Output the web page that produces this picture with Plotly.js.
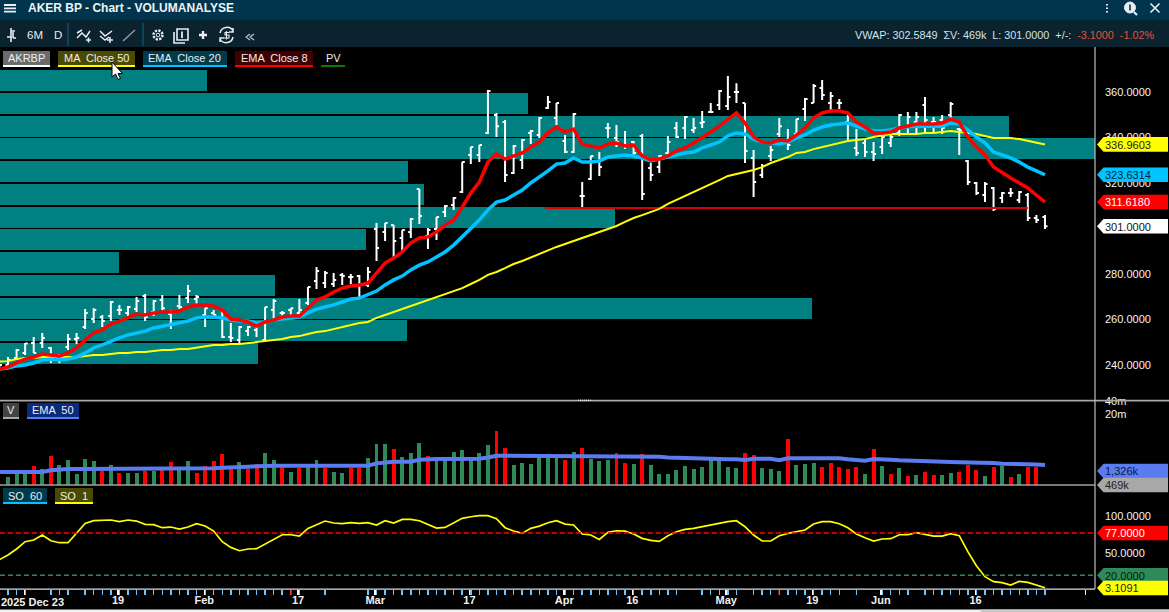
<!DOCTYPE html>
<html><head><meta charset="utf-8">
<script src="https://cdn.plot.ly/plotly-3.0.1.min.js"></script>
<style>html,body{margin:0;padding:0;background:#000;overflow:hidden}#c{position:absolute;left:0;top:0;width:1169px;height:612px}#o{position:absolute;left:0;top:0;pointer-events:none}</style>
</head><body><div id="c"></div>
<svg id="o" width="1169" height="612" fill="none" stroke="#e8eef2" stroke-width="1.6">
<path d="M4 5H16M4 8.3H16M4 11.7H16" stroke-width="1.8"/>
<path d="M11 28V42M7 37H11M11 31H15M13 32V38M13 38H16" stroke-width="1.6"/>
<path d="M77 38L82 33L86 37L90 31M77 33L82 30M86 40H91M88.5 37.5V42.5" stroke-width="1.5"/>
<path d="M100 31L105 36L112 31M100 36L105 40L109 37M107 40H113M110 37V43" stroke-width="1.5"/>
<path d="M123 41L135 30" stroke="#8a9aa5" stroke-width="1.6"/>
<path d="M68 23V46M143 23V46" stroke="#0d5a80" stroke-width="1.2"/>
<circle cx="158" cy="35" r="4.5" stroke-width="2.4" stroke-dasharray="2.2 1.3"/><circle cx="158" cy="35" r="1.8" stroke-width="1"/>
<path d="M177 29H188V40H177ZM174 32V43H185" stroke-width="1.6"/><path d="M182 31.5V38" stroke-width="1.8"/>
<path d="M203 31V39M199 35H207" stroke-width="2.4"/>
<path d="M220 33A7 7 0 0 1 233 31M233 37A7 7 0 0 1 220 39M233 28V32H229M220 42V38H224" stroke-width="1.5"/><path d="M229 32.5H225V35H229V38H224M226.500 31V39.500" stroke-width="1.1"/>
<path d="M250 34L246 37L250 40M254 34L250 37L254 40" stroke="#b9c4cb" stroke-width="1.2"/>
<path d="M1107 4V5.500M1107 7.500V9M1107 11V12.500" stroke-width="2"/>
<circle cx="1130" cy="7.500" r="5.500" fill="#e8eef2" stroke-width="1"/><path d="M1134 12L1137 15" stroke-width="2.2"/><path d="M1130 4.500V10.500" stroke="#00354d" stroke-width="1.600"/>
<path d="M1150.500 3.500L1159.500 12.500M1159.500 3.500L1150.500 12.500" stroke-width="1.600"/>
<path d="M112 62V77L115.500 74L118 79.500L120.500 78.500L118 73.500H122.500Z" fill="#fff" stroke="#000" stroke-width="1"/>
</svg>
<script>
/* first entry of the price and line series sits one session left of the first volume bar, partly off the left edge */
const high=[240.4, 243.5,247,249.7,252.3,254.1,247.9,244.8,253.6,254.1,264.6, 265,262,268.1,266.4,265.9,269.9,271.2,268.6,270.8,264.2, 270.8,275.2,270.8,265,264.2,265,258.5,257.1,257.1,258, 265.5,269,263.7,265,269,274.3,283.1,281.3,280.4,280.4, 280,279.6,283.1,302.4,302.4,301.5,299.3,304.6,317.4,300.2, 305.1,310.3,313.8,329.2,335.8,336.7,360.9,350.8,347.7,336.7, 339.3,343.3,349,358.2,355.2,341.1,350.8,320.4,331.9,333.6, 346.4,345.5,342.9,338.5,341.5,328.8,332.3,340.7,346.8,349.5, 348.6,351.7,355.2,360.9,367,363.9,355.2,334.5,328.3,336.3, 348.6,343.7,348.1,357.4,363.5,365.3,360,356.9,349.9,343.7, 338.9,338,340.7,341.1,350.3,351.2,351.2,357.8,349,349.9, 355.6,344.2,330.1,320.4,320.4,318.2,316,317.8,316.5,315.6, 305.9,305.9];
const low=[238.7, 239.1,242.2,244.4,245.3,247.5,240.9,240.9,246.6,249.2,255.8, 258.5,256.7,259.3,262,261.1,263.3,259.3,261.5,264.2,255.8, 264.6,267.2,266.4,256.7,262,251.9,250.1,249.7,252.7,252.3, 250.1,260.7,261.1,261.5,262,266.4,273.4,273.8,274.3,275.2, 275.6,269.4,274.3,285.7,294.5,287.5,290.1,295.8,302,291, 294.9,305.1,308.1,315.6,328.3,329.2,341.5,340.2,320.4,324, 326.2,337.1,339.8,352.5,345.5,333.2,333.2,309.4,321.3,323.1, 339.8,335.8,334.9,331.4,312.5,320.9,324.4,332.7,339.8,339.3, 342,344.2,350.8,352.1,352.1,355.2,328.8,313.8,322.2,329.7, 340.2,334.5,341.1,347.3,355.2,356.5,352.1,352.5,338.9,331.9, 331.4,329.7,332.7,335.8,340.7,342,342,342.4,342,341.5, 348.6,332.3,319.1,314.7,311.6,307.7,311.2,313.8,311.2,303.3, 302.4,299.8];
const open=[239.5, 240,243.1,245.3,249.7,249.7,247.5,243.1,247.9,251.4,256.7, 260.2,261.1,261.5,264.2,262.9,264.6,270.3,263.3,268.6,262.4, 265.9,269.4,269,262,262.9,264.2,252.3,251,254.9,255.4, 251,264.2,262.9,264.2,262.9,267.2,276.9,276,275.6,279.6, 278.7,279.1,275.2,299.8,298.5,301.5,295.8,298.5,317.4,296.7, 299.8,307.3,310.3,316,332.3,332.3,342,349.9,346.8,324.4, 330.1,342,341.1,353,348.6,338.5,333.6,314.3,321.8,329.2, 344.2,339.8,336.7,338,340.7,326.6,327,333.2,344.2,344.2, 343.3,346.4,351.2,354.3,353.8,360,355.2,331,323.5,331.9, 341.5,338.9,341.5,352.5,355.2,361.8,355.2,355.2,346.8,335.4, 337.6,333.6,335.8,337.6,342,345,346.8,354.3,346.8,347.7, 349.9,343.7,329.7,320,314.7,317.8,313.4,315.6,312.5,314.7, 304.6,305.1];
const close=[240, 242.2,246.6,249.5,245.3,251.9,244.4,244.4,251.4,251.9,262.9, 264.2,259.3,267.7,264.2,265.5,268.1,261.1,268.1,265,263.7, 265.5,272.5,269.9,265,262,252.3,251.9,256.7,256.7,257.1, 265.5,268.1,262.9,265,264.2,274.3,281.3,280.4,277.4,279.1, 278.7,275.2,280.9,291.4,302.4,294.5,299.3,304.2,305.5,299.3, 305.1,309.9,313.4,329.2,335.8,336.7,360.4,345,323.5,336.3, 338.9,342.9,348.6,355.6,355.2,333.6,350.3,314.3,331.9,327, 344.2,338,336.7,333.2,315.2,323.5,331.9,338,340.2,349, 344.2,346.8,351.2,360.4,357.8,360,334.1,320.4,327.5,334.5, 345,336.7,348.1,356.9,362.6,358.7,358.2,355.2,345.9,333.2, 333.6,332.7,340.2,340.2,349.9,349,349,347.7,346.8,344.2, 354.7,343.3,320.4,315.6,319.6,308.6,315.6,315.6,316,304.6, 303.7,301];
const ema8=[238.2, 239.1,240.9,242.6,243.5,244.8,244.4,243.9,245.3,247.5,251, 254.1,255.4,258,259.3,260.7,262.4,262,262.9,263.3,263.3, 263.7,265.5,266.4,266.4,265.9,264.2,260.2,259.8,258.9,257.1, 258.9,259.8,261.1,261.5,261.5,265,268.6,269.9,272.1,273.8, 274.7,275.2,276,280.4,284.8,287,289.7,293.6,295.8,296.3, 298.5,301.5,303.7,309.4,315.6,320.4,329.2,332.7,330.5,331.9, 333.2,335.8,338,342,344.6,342.4,343.7,337.1,336.3,335.4, 337.1,337.6,336.3,336.7,331.9,330.1,330.5,331.9,334.1,335.4, 337.6,339.8,342.4,345,348.1,350.8,346.4,340.2,338,337.6, 338.9,338.5,341.1,344.2,348.6,350.8,351.7,351.7,350.8,346.8, 344.6,342,342,342.4,344.2,345,345.9,345.9,345.9,346.4, 348.1,346.8,340.2,335.8,332.3,327,324.4,322.2,320,317.8, 314.7,311.618];
const ema20=[238.2, 238.7,239.6,240,240.9,242.2,242.6,242.2,242.6,243.5,245.3, 247.5,248.8,250.5,251.9,253.2,254.1,254.9,256.3,257.1,257.6, 258.5,259.3,260.7,261.1,261.1,260.7,259.8,259.3,259.3,258.5, 258.9,259.8,260.2,260.7,261.1,262.9,264.6,265.5,266.4,267.7, 269,269.4,270.8,272.5,275.2,277.4,279.1,281.8,283.9,285.3, 287.5,289.7,292.7,296.3,300.2,303.7,308.1,311.6,312.5,314.7, 316.9,320,322.6,325.3,328.3,328.8,331,329.2,329.2,329.7, 331.4,331.9,332.3,331.9,331,329.7,330.5,331.4,332.3,333.2, 333.6,335.4,336.7,338,340.7,342,341.5,339.3,338,337.6, 337.1,338,339.8,341.1,343.3,344.6,345.5,345.9,346.4,345, 343.7,342.9,342.9,343.3,344.2,344.6,345,345,345,345, 346.4,345.9,343.3,340.2,337.6,333.6,332.3,331,329.2,327, 325.3,323.631];
const ma50=[241.5, 241.7,242.6,243.1,243.1,243.5,243.5,243.5,243.5,243.5,243.9, 244.4,244.4,244.8,245.3,245.3,245.7,245.7,246.1,246.6,246.6, 247,247,247.5,248.3,248.8,248.8,249.2,249.2,249.7,250.1, 250.5,251,251.4,252.3,252.7,253.6,254.5,254.9,255.8,256.7, 257.6,258.5,258.9,260.7,262,263.3,264.6,265.9,267.2,268.6, 269.9,271.2,272.5,273.8,275.6,277.4,279.6,280.9,282.6,284.4, 285.7,287.3,288.8,290.5,291.9,293.2,294.5,295.8,297.1,298.5, 299.8,301.1,302.9,304.6,305.9,307.3,308.6,310.8,312.5,314.3, 316,317.8,319.6,321.3,323.1,324,324.8,325.7,327,328.8, 330.1,331.4,333.2,333.6,334.9,335.8,336.7,337.6,338.5,338.9, 339.3,340.2,340.7,341.5,341.5,341.5,341.5,342,342,342.4, 342.9,342.4,342,341.5,340.7,339.8,339.8,339.8,339.3,338.5, 337.6,336.96];
const resistanceLine={from:62.66,to:119,price:309};
const profileLevels=[365,355,345,335,325,315,305,295,285,275,265,255,245];
const profileVolume=[18.9,48.2,92.1,100,37.3,38.7,56.2,33.4,10.9,25.1,74.2,37.2,23.6];
const volume=[710,850,850,1253,1069,2124,1321,1719,821,1813, 1631,962,1321,866,866,866,962,962,1014,1547, 1014,1631,866,1253,1631,2361,1110,1547,1069,1393, 2489,1719,1253,913,1127,1188,1719,1127,913,866, 1127,1127,1911,4002,4002,3074,2015,2489,4221,2124, 2015,1719,2624,2916,1719,2489,3797,7970,3241,1321, 1468,1393,2015,2015,2015,1719,2624,3241,1813,1631, 1719,2489,1468,1393,2361,1321,821,821,1014,1253, 1069,1188,1719,1719,1188,1127,2489,2239,1127,1069, 962,5213,1321,1393,1468,1188,1468,1188,1069,1188, 821,3074,1253,821,1127,739,779,913,779,779, 866,913,1321,1014,739,1188,1253,701,821,1188, 1188,469];
const volumeDir="gggrgrgggg grgrggrgrr ggrrrrrgrr ggrgrggrgg rrgggrgggr gggggggrrg gggggrgrgg grrgrggggg ggggggrrgg grgggrrrrr grgrgrgrrg grrrgrgrgr rr".replace(/ /g,"").split("");
const volumeEma=[913,913,913,913,913,998,1052,1069,1069,1069, 1069,1069,1069,1069,1069,1069,1069,1086,1086,1086, 1110,1110,1110,1110,1110,1146,1146,1208,1208,1234, 1275,1275,1275,1275,1275,1275,1275,1275,1275,1275, 1275,1275,1275,1445,1525,1573,1573,1573,1746,1813, 1813,1813,1813,1813,1813,1840,1979,2158,2158,2158, 2158,2158,2158,2158,2158,2158,2158,2158,2158,2158, 2158,2158,2124,2047,2047,2047,2047,1979,1941,1911, 1840,1813,1790,1790,1790,1790,1719,1840,1840,1840, 1719,1890,1890,1890,1890,1890,1890,1890,1790,1697, 1660,1813,1813,1746,1697,1660,1631,1573,1573,1547, 1547,1525,1525,1493,1493,1468,1413,1413,1413,1393, 1369,1326];
const stochastic=[41, 47.3,55.4,65.3,67.5,74.3,66.6,63.9,63.9,76.5,90, 93.7,93.7,94.6,92.3,94.6,93.2,88.7,88.3,84.2,85.1, 82.4,85.1,89.6,86.5,79.7,65.3,57.6,53.1,55.4,55.8, 62.1,67.5,74.7,74.7,72.9,83.3,87.8,93.2,90.5,89.6, 91,90,91,87.8,93.7,90.5,95.4,95.4,93.6,88.7, 83.7,84.6,90.9,96.8,99,100.4,100.4,96.4,84.2,79.7, 76.5,83.3,86.4,90.9,93.6,89.1,87.8,75.6,74.3,68.4, 77.9,80.1,79.7,75.6,69.8,67.1,65.7,73.4,78.8,81.9, 83.3,85.5,88.2,90.5,92.3,93.6,85.5,74.3,66.2,66.2, 73.4,76.5,78.8,81,89.2,92.3,92.3,89.6,84.2,75.6, 70.7,66.2,68.9,69.3,74.7,74.7,77.4,75.6,72.9,72.9, 76.1,73.4,51.8,32.8,18,11.2,9.9,6.7,11.7,10.3, 6.7,3.1];
const dateLabels=["","19","Feb","17","Mar","17","Apr","16","May","19","Jun","16",""];
const dateLabelPos=[1.9,12.85,22.9,33.85,42.85,53.85,64.9,72.85,83.8,93.85,101.85,112.9,125.7];
const missingTicks=[3,4,8,33,35,36,38,39,40,41,79,80,86,90,98,100,101,106];
const redTicks=[33,90];

const W=1169,H=612,FONT='"Liberation Sans",Arial,sans-serif';
const X=p=>p/W, Y=p=>1-p/H;
const idx=volume.map((_,i)=>i);
const idxLead=high.map((_,i)=>i-1);
const idxVolEma=[-1,...idx];
const xMin=-8/8.57, xMax=(1095-8)/8.57;
const teal='#008080',grn='#2e8b57',blue='#5b7cf0',cyan='#00c3ff';
const last=a=>a[a.length-1];
const priceY=v=>92+(360-v)*2.275, soY=v=>516+(100-v)*0.74;

const traces=[
 {type:'bar',orientation:'h',y:profileLevels,x:profileVolume.map(v=>v*(xMax-xMin)/100),base:xMin,width:9.3,marker:{color:teal,line:{width:0}},xaxis:'x',yaxis:'y'},
 {type:'ohlc',x:idxLead,open,high,low,close,tickwidth:0.3,increasing:{line:{color:'#fff',width:2}},decreasing:{line:{color:'#fff',width:2}},xaxis:'x',yaxis:'y'},
 {type:'scatter',mode:'lines',x:[resistanceLine.from,resistanceLine.to],y:[resistanceLine.price,resistanceLine.price],line:{color:'#dd0000',width:2},xaxis:'x',yaxis:'y'},
 {type:'scatter',mode:'lines',x:idxLead,y:ma50,line:{color:'#ffff00',width:2},xaxis:'x',yaxis:'y'},
 {type:'scatter',mode:'lines',x:idxLead,y:ema20,line:{color:cyan,width:3.5},xaxis:'x',yaxis:'y'},
 {type:'scatter',mode:'lines',x:idxLead,y:ema8,line:{color:'#ff0000',width:3.5},xaxis:'x',yaxis:'y'},
 {type:'bar',x:idx,y:volume.map(v=>v*1000),width:0.46,marker:{color:volumeDir.map(d=>d==='g'?grn:'#ff0000'),line:{width:0}},xaxis:'x',yaxis:'y2'},
 {type:'scatter',mode:'lines',x:idxVolEma,y:[volumeEma[0],...volumeEma].map(v=>v*1000),line:{color:blue,width:4},xaxis:'x',yaxis:'y2'},
 {type:'scatter',mode:'lines',x:idxLead,y:stochastic,line:{color:'#ffff00',width:1.7},xaxis:'x',yaxis:'y3'}
];

const shapes=[];
const rect=(x0,y0,x1,y1,c,layer)=>shapes.push({type:'rect',xref:'paper',yref:'paper',x0:X(x0),x1:X(x1),y0:Y(y0),y1:Y(y1),fillcolor:c,line:{width:0},layer:layer||'above'});
const hline=(x0,x1,y,c,w)=>shapes.push({type:'line',xref:'paper',yref:'paper',x0:X(x0),x1:X(x1),y0:Y(y),y1:Y(y),line:{color:c,width:w}});
rect(0,0,W,20,'#00354d');rect(0,20,W,47,'#0b222f');
rect(0,609.5,W,612,'#f0f0f0');rect(981,609.5,W,612,'#c8c8c8');
hline(0,W,400.7,'#a8a8a8',1.7);hline(0,1095,485,'#a0a0a0',1.7);hline(0,1095,589.2,'#dddddd',1.2);
shapes.push({type:'line',xref:'paper',yref:'paper',x0:X(1095),x1:X(1095),y0:Y(47),y1:Y(589),line:{color:'#bdbdbd',width:1.2}});
shapes.push({type:'line',xref:'paper',yref:'paper',x0:X(578),x1:X(592),y0:Y(400.2),y1:Y(400.2),line:{color:'#fff',width:1,dash:'1px,1px'}});
[[77,'#ff0000'],[20,grn]].forEach(([v,c])=>shapes.push({type:'line',xref:'paper',yref:'y3',x0:0,x1:X(1095),y0:v,y1:v,line:{color:c,width:1.6,dash:'5px,3px'}}));
redTicks.forEach(i=>shapes.push({type:'line',xref:'x',yref:'paper',x0:i,x1:i,y0:Y(590),y1:Y(595),line:{color:'#ff5040',width:1.5}}));

const anns=[];
const txt=(x,y,t,o={})=>anns.push(Object.assign({xref:'paper',yref:'paper',x:X(x),y:Y(y),text:t,showarrow:false,xanchor:'left',yanchor:'middle',borderpad:0,
  font:{family:FONT,size:11.5,color:'#f0f0f0'}},o));
txt(27,8,'<b>AKER BP - Chart - VOLUMANALYSE</b>',{font:{family:FONT,size:12,color:'#eef3f6'}});
txt(26,35,'6M',{font:{family:FONT,size:11.5,color:'#e8eef2'}});
txt(53,35,'D',{font:{family:FONT,size:11.5,color:'#e8eef2'}});
txt(1155,35,'<span style="color:#d5e2ea">VWAP: 302.5849  ΣV: 469k  L: 301.0000  +/-: </span><span style="color:#e8503a"> -3.1000  -1.02%</span>',{xanchor:'right',font:{family:FONT,size:10.8,color:'#d5e2ea'}});
txt(32,601.8,'<b>2025 Dec 23</b>',{xanchor:'center',font:{family:FONT,size:11,color:'#f0f0f0'}});

const chip=(x0,x1,y0,label,bg,ul)=>{
  if(bg) rect(x0,y0,x1,y0+14,bg);
  rect(x0,y0+14,x1,y0+16,ul);
  txt((x0+x1)/2,y0+7.5,label,{xanchor:'center',font:{family:FONT,size:11,color:'#eeeeee'}});
};
chip(3,50,51,'AKRBP','#6b6b6b','#ffffff');
chip(58,135,51,'MA  Close 50','#4a4a00','#ffff00');
chip(143,227,51,'EMA  Close 20','#003a4d',cyan);
chip(235,313,51,'EMA  Close 8','#400000','#ff0000');
chip(321,345,51,'PV',null,'#0a7a0a');
chip(3,19,403,'V','#444444','#a8a8a8');
chip(27,79,403,'EMA  50','#0a2a80',blue);
chip(3,47,488,'SO  60','#003a4d',cyan);
chip(55,93,488,'SO  1','#4a4a00','#ffff00');

const tag=(py,label,fill,color)=>{
  const x0=X(1097),x1=X(1103.5),x2=X(1168),t=Y(py-7.3),b=Y(py+7.3),m=Y(py);
  shapes.push({type:'path',xref:'paper',yref:'paper',path:`M${x0},${m}L${x1},${t}L${x2},${t}L${x2},${b}L${x1},${b}Z`,fillcolor:fill,line:{width:0}});
  txt(1104,py+0.3,label,{font:{family:FONT,size:11,color}});
};
tag(priceY(last(ma50)),'336.9603','#ffff00','#222');
tag(priceY(last(ema20)),'323.6314',cyan,'#03263a');
tag(priceY(last(ema8)),'311.6180','#ff0000','#fff');
tag(priceY(last(close)),'301.0000','#ffffff','#111');
tag(471,'1,326k',blue,'#0a1a40');
tag(485,'469k','#a8a8a8','#222');
tag(soY(77),'77.0000','#ff0000','#fff');
tag(soY(20),'20.0000',grn,'#041a10');
tag(588,'3.1091','#ffff00','#222');

const tickFont={family:FONT,size:11,color:'#f4f4f4'};
const yBase={showgrid:false,zeroline:false,showline:false,side:'right',anchor:'x',ticks:'',tickfont:tickFont,ticklabelstandoff:9,fixedrange:true,automargin:false};
const layout={width:W,height:H,margin:{l:0,r:0,t:0,b:0},autosize:false,showlegend:false,paper_bgcolor:'#000',plot_bgcolor:'#000',hovermode:false,barmode:'overlay',bargap:0,
 xaxis:{domain:[0,X(1095)],range:[xMin,xMax],anchor:'y3',showgrid:false,zeroline:false,showline:false,
   tickmode:'array',tickvals:dateLabelPos,ticktext:dateLabels.map(s=>s?'<b>'+s+'</b>':s),ticks:'outside',ticklen:5,tickwidth:1.5,tickcolor:'#ffffff',tickangle:0,
   tickfont:{family:FONT,size:11,color:'#f0f0f0'},ticklabelstandoff:-4,
   minor:{tickmode:'array',tickvals:idx.filter(i=>!missingTicks.includes(i)),ticks:'outside',ticklen:5,tickwidth:1.5,tickcolor:'#6ec6ff',showgrid:false},
   rangeslider:{visible:false},fixedrange:true,automargin:false},
 yaxis:Object.assign({},yBase,{domain:[Y(399),Y(47)],range:[400.44-0.43956*399,400.44-0.43956*47],tickmode:'array',tickvals:[240,260,280,300,320,340,360],ticktext:['240.0000','260.0000','280.0000','','320.0000','340.0000','360.0000']}),
 yaxis2:Object.assign({},yBase,{type:'log',domain:[Y(485),Y(399)],range:[5.66,7.301+15/43.3],tickmode:'array',tickvals:[20000000,40000000],ticktext:['20m','40m']}),
 yaxis3:Object.assign({},yBase,{domain:[Y(589),Y(487)],range:[1.35,139.2],tickmode:'array',tickvals:[50,100],ticktext:['50.0000','100.0000']}),
 shapes,annotations:anns};
Plotly.newPlot('c',traces,layout,{staticPlot:true,displayModeBar:false});
</script></body></html>
